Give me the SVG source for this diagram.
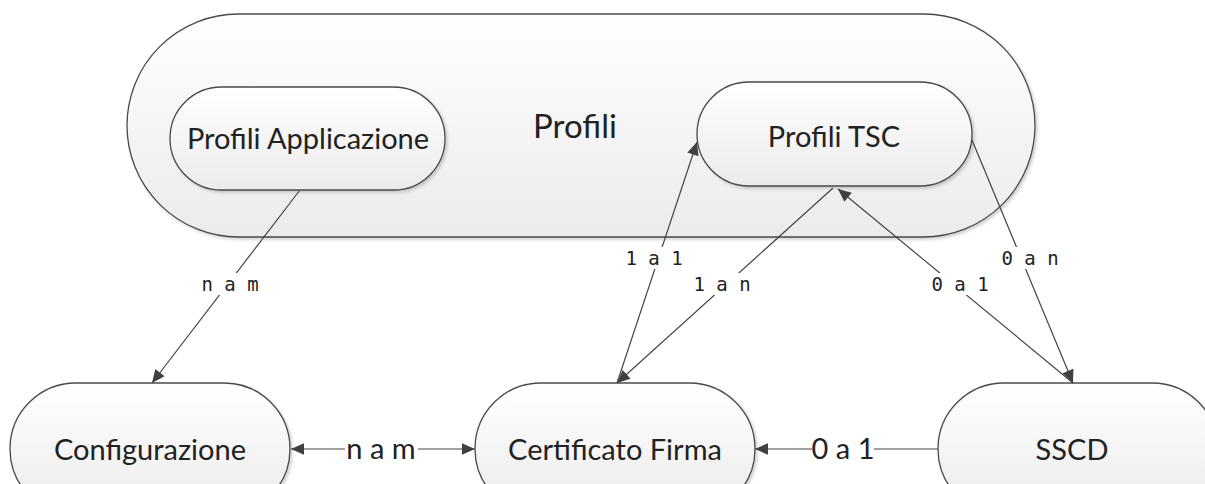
<svg xmlns="http://www.w3.org/2000/svg" width="1205" height="484" viewBox="0 0 1205 484">
<defs>
<linearGradient id="g" x1="0" y1="0" x2="0" y2="1">
<stop offset="0" stop-color="#ffffff"/>
<stop offset="1" stop-color="#ebebeb"/>
</linearGradient>
<filter id="sh" x="-5%" y="-5%" width="110%" height="115%">
<feDropShadow dx="2" dy="2" stdDeviation="1.5" flood-color="#000" flood-opacity="0.18"/>
</filter>
<marker id="ah" viewBox="0 0 10 10" refX="10" refY="5" markerWidth="15" markerHeight="13" markerUnits="userSpaceOnUse" orient="auto-start-reverse">
<path d="M0,0.5 L10,5 L0,9.5 Z" fill="#404040"/>
</marker>
<style>
.node{fill:url(#g);stroke:#4a4a4a;stroke-width:1.3;filter:url(#sh)}
.t{font-family:Lato,"Liberation Sans",sans-serif;font-size:29px;fill:#222;text-anchor:middle;dominant-baseline:central}
.big{font-size:33px}
.lbl{font-family:"DejaVu Sans Mono","Liberation Mono",monospace;font-size:19px;fill:#222;text-anchor:middle;dominant-baseline:central}
.c{stroke:#444;stroke-width:1.2;fill:none}
.bg{fill:#fff}
</style>
</defs>
<g id="profili">
<rect class="node" x="127" y="14" width="908" height="223" rx="111.5"/>
<text class="t big" x="575" y="125">Profili</text>
</g>
<g id="profili-applicazione">
<rect class="node" x="170" y="87" width="275" height="103" rx="51.5"/>
<text class="t" x="308" y="137">Profili Applicazione</text>
</g>
<g id="profili-tsc">
<rect class="node" x="697" y="82" width="275" height="104" rx="52"/>
<text class="t" x="834" y="135">Profili TSC</text>
</g>
<g id="configurazione">
<rect class="node" x="10" y="383" width="280" height="132" rx="66"/>
<text class="t" x="150" y="448">Configurazione</text>
</g>
<g id="certificato-firma">
<rect class="node" x="475" y="383" width="280" height="132" rx="66"/>
<text class="t" x="615" y="448">Certificato Firma</text>
</g>
<g id="sscd">
<rect class="node" x="938" y="383" width="280" height="132" rx="66"/>
<text class="t" x="1072" y="448">SSCD</text>
</g>
<g id="connectors">
<line class="c" x1="300" y1="190" x2="152" y2="383" marker-end="url(#ah)"/>
<line class="c" x1="617" y1="383" x2="697" y2="142" marker-end="url(#ah)"/>
<line class="c" x1="833" y1="188" x2="617" y2="383" marker-end="url(#ah)"/>
<line class="c" x1="1073" y1="383" x2="838" y2="189" marker-end="url(#ah)"/>
<line class="c" x1="972" y1="140" x2="1073" y2="383" marker-end="url(#ah)"/>
<line class="c" x1="291" y1="449" x2="345" y2="449" marker-start="url(#ah)"/>
<line class="c" x1="418" y1="449" x2="475" y2="449" marker-end="url(#ah)"/>
<line class="c" x1="938" y1="449" x2="874" y2="449"/>
<line class="c" x1="812" y1="449" x2="755" y2="449" marker-end="url(#ah)"/>
<rect class="bg" x="200" y="273" width="60" height="22"/>
<text class="lbl" x="230" y="284">n a m</text>
<rect class="bg" x="624" y="247" width="60" height="22"/>
<text class="lbl" x="654" y="258">1 a 1</text>
<rect class="bg" x="692" y="273" width="60" height="22"/>
<text class="lbl" x="722" y="284">1 a n</text>
<rect class="bg" x="930" y="273" width="60" height="22"/>
<text class="lbl" x="960" y="284">0 a 1</text>
<rect class="bg" x="1000" y="247" width="60" height="22"/>
<text class="lbl" x="1030" y="258">0 a n</text>
<text class="t" x="381" y="447">n a m</text>
<text class="t" x="843" y="447">0 a 1</text>
</g>
</svg>
